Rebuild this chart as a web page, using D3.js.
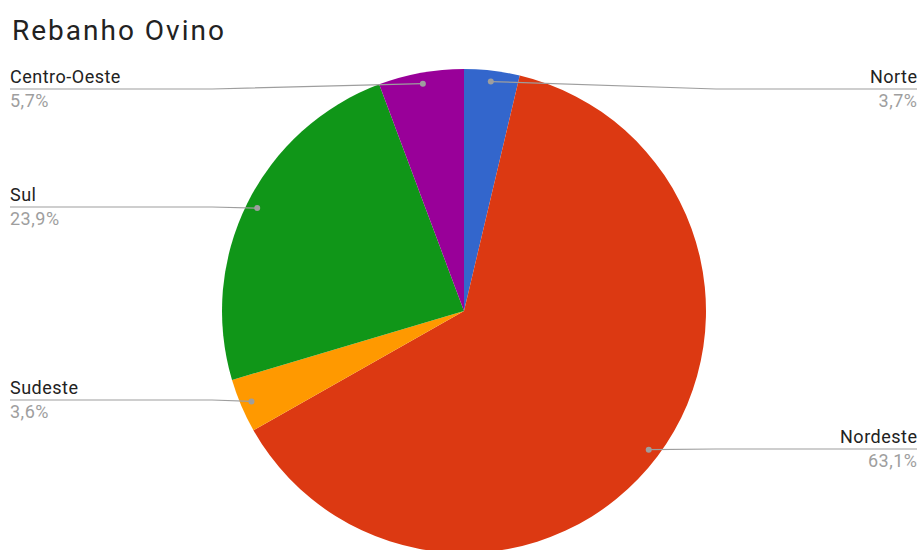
<!DOCTYPE html>
<html>
<head>
<meta charset="utf-8">
<script src="https://cdn.jsdelivr.net/npm/d3@7/dist/d3.min.js"></script>
<style>
html,body{margin:0;padding:0;background:#fff;}
svg{display:block;font-family:Roboto, "Noto Sans", sans-serif;}
</style>
</head>
<body>
<svg id="chart" width="920" height="550"></svg>
<script>
const categories = ["Norte", "Nordeste", "Sudeste", "Sul", "Centro-Oeste"];
const values = [3.7, 63.1, 3.6, 23.9, 5.7];
const valueLabels = ["3,7%", "63,1%", "3,6%", "23,9%", "5,7%"];
const colors = ["#3366cc", "#dc3912", "#ff9900", "#109618", "#990099"];

const W = 920, H = 550;
const cx = 464, cy = 311, R = 242;
const svg = d3.select("#chart");

svg.append("text").attr("x", 12).attr("y", 40)
  .attr("font-size", 28).attr("letter-spacing", "2px").attr("fill", "#222").text("Rebanho Ovino");

const data = categories.map((c, i) => ({name: c, value: values[i], label: valueLabels[i], color: colors[i]}));
const pie = d3.pie().sort(null).value(d => d.value);
const arcs = pie(data);
const arc = d3.arc().innerRadius(0).outerRadius(R);
const dotArc = d3.arc().innerRadius(231).outerRadius(231);

const g = svg.append("g").attr("transform", `translate(${cx},${cy})`);
g.selectAll("path").data(arcs).enter().append("path")
  .attr("d", arc).attr("fill", d => d.data.color);

// label layout: side and y of leader line
const labelY = {"Norte": 89, "Nordeste": 449, "Sudeste": 400, "Sul": 207, "Centro-Oeste": 89};
const lg = svg.append("g");
arcs.forEach(a => {
  const [dx, dy] = dotArc.centroid(a);
  const px = cx + dx, py = cy + dy;
  const right = px > cx;
  const ly = labelY[a.data.name];
  const bendX = right ? 716 : 212;
  const endX = right ? 917 : 10;
  lg.append("polyline")
    .attr("points", `${px},${py} ${bendX},${ly} ${endX},${ly}`)
    .attr("fill", "none").attr("stroke", "#9e9e9e").attr("stroke-width", 1.2);
  lg.append("circle").attr("cx", px).attr("cy", py).attr("r", 3).attr("fill", "#9e9e9e");
  const anchor = right ? "end" : "start";
  const tx = right ? endX + 0.5 : endX;
  lg.append("text").attr("x", tx).attr("y", ly - 6)
    .attr("text-anchor", anchor).attr("font-size", 18).attr("letter-spacing", "0.5px")
    .attr("fill", "#222").text(a.data.name);
  lg.append("text").attr("x", tx).attr("y", ly + 18)
    .attr("text-anchor", anchor).attr("font-size", 18).attr("letter-spacing", "0.5px")
    .attr("fill", "#9e9e9e").text(a.data.label);
});
</script>
</body>
</html>
